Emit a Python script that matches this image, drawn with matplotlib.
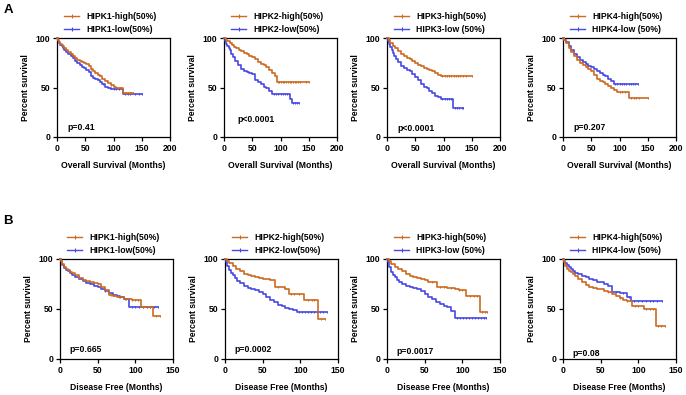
import numpy as np
import matplotlib
matplotlib.use("Agg")
import matplotlib.pyplot as plt
from matplotlib.lines import Line2D

plt.rcParams['font.family'] = ['Liberation Sans', 'DejaVu Sans']
plt.rcParams['font.weight'] = 'bold'
plt.rcParams['axes.labelweight'] = 'bold'

HIGH_C = '#CC6A20'
LOW_C = '#4848E4'

# ---------------- Data (months, percent survival) ----------------
# Row A: Overall Survival
a1_hi_t = [0,1,2,4,6,8,10,13,16,20,24,28,32,36,40,44,48,52,56,60,64,68,72,76,80,85,90,95,100,105,117,135]
a1_hi_s = [100,99,98,96,94,93,92,90,88,86,84,82,80,78,77,76,75,74,72,69,67,65,63,62,59,57,55,53,51,50,44,44]
a1_hi_c = [60,75,88,95,102,108,112,120,125,130,135]
a1_lo_t = [0,1,2,4,6,8,10,13,16,20,24,28,32,36,40,44,48,52,56,60,64,68,72,76,80,85,90,95,117,150]
a1_lo_s = [100,99,97,95,93,92,90,88,86,84,82,80,77,75,73,71,70,68,66,62,60,59,58,56,54,51,49,48,43,43]
a1_lo_c = [70,82,93,100,105,110,120,125,130,138,145,150]

a2_hi_t = [0,3,6,10,14,18,22,26,30,35,40,45,50,55,60,65,70,75,80,85,90,93,150]
a2_hi_s = [100,98,97,95,93,91,90,88,87,85,84,82,81,79,76,74,73,71,68,65,62,56,56]
a2_hi_c = [95,98,101,104,107,110,113,116,119,122,125,128,131,135,145,150]
a2_lo_t = [0,2,4,6,8,10,13,16,20,25,30,35,40,45,50,55,60,65,70,75,80,85,117,120,133]
a2_lo_s = [100,97,94,92,90,88,84,81,77,73,69,67,66,65,64,58,56,54,51,49,46,43,38,34,34]
a2_lo_c = [88,92,96,100,104,108,112,115,122,126,130,133]

a3_hi_t = [0,3,6,10,15,20,25,30,35,40,45,50,55,60,65,70,75,80,85,90,95,150]
a3_hi_s = [100,98,95,92,90,87,84,82,80,79,77,75,73,72,70,69,68,67,65,63,62,62]
a3_hi_c = [98,102,106,110,114,118,122,126,130,135,140,150]
a3_lo_t = [0,2,4,6,8,10,13,16,20,25,30,35,40,45,50,55,60,65,70,75,80,85,90,95,117,135]
a3_lo_s = [100,97,94,91,88,85,82,79,76,72,70,68,67,64,61,58,54,51,49,46,44,41,40,38,29,29]
a3_lo_c = [98,102,106,110,114,120,124,128,132,135]

a4_hi_t = [0,2,5,10,15,20,25,30,35,40,45,50,55,60,65,70,75,80,85,90,95,117,150]
a4_hi_s = [100,98,95,90,86,82,78,75,73,71,69,67,63,59,57,56,54,52,49,47,45,39,39]
a4_hi_c = [100,105,110,120,125,130,135,150]
a4_lo_t = [0,2,5,10,15,20,25,30,35,40,45,50,55,60,65,70,75,80,85,90,132]
a4_lo_s = [100,98,96,92,88,84,81,78,76,74,72,71,69,67,65,63,62,59,57,54,54]
a4_lo_c = [92,96,100,104,108,112,116,120,124,128,132]

# Row B: Disease Free
b1_hi_t = [0,1,3,5,8,10,13,16,20,25,30,35,40,45,50,55,60,65,70,75,85,95,107,123,133]
b1_hi_s = [100,98,95,92,90,89,87,86,84,81,79,78,77,76,75,72,69,64,63,62,60,59,52,43,43]
b1_hi_c = [60,68,78,88,95,100,104,110,115,120,128,133]
b1_lo_t = [0,1,3,5,8,10,13,16,20,25,30,35,40,45,50,55,60,65,70,75,80,85,92,130]
b1_lo_s = [100,98,94,91,89,88,86,84,82,80,78,76,75,73,72,70,68,66,64,63,62,60,52,52]
b1_lo_c = [60,70,80,86,95,100,105,110,115,120,125,130]

b2_hi_t = [0,2,5,10,15,20,25,30,35,40,45,50,55,60,67,75,80,85,95,105,123,133]
b2_hi_s = [100,98,96,93,90,88,85,84,83,82,81,80,80,79,72,72,70,65,65,59,40,40]
b2_hi_c = [70,78,88,92,98,110,115,118,128,133]
b2_lo_t = [0,1,3,5,8,10,13,16,20,25,30,35,40,45,50,55,60,65,70,75,80,85,90,95,135]
b2_lo_s = [100,97,93,89,86,84,81,78,76,73,71,70,69,67,65,62,59,57,54,53,51,50,49,47,47]
b2_lo_c = [98,102,106,110,114,118,122,126,130,135]

b3_hi_t = [0,2,5,10,15,20,25,30,35,40,45,50,55,67,80,90,95,105,123,133]
b3_hi_s = [100,98,95,92,90,88,85,83,82,81,80,79,77,72,71,70,69,63,47,47]
b3_hi_c = [60,70,75,85,95,100,110,115,120,126,130,133]
b3_lo_t = [0,1,3,5,8,10,13,16,20,25,30,35,40,45,50,55,60,65,70,75,80,85,90,132]
b3_lo_s = [100,97,92,87,84,82,79,77,75,73,72,71,70,68,65,62,60,57,55,53,52,48,41,41]
b3_lo_c = [93,97,101,105,109,113,117,121,125,129,132]

b4_hi_t = [0,1,3,5,8,10,13,16,20,25,30,35,40,45,50,55,60,65,70,75,80,85,92,107,123,135]
b4_hi_s = [100,97,93,90,88,87,85,83,80,77,74,72,71,70,70,68,67,65,63,61,59,58,53,50,33,33]
b4_hi_c = [60,75,85,95,100,110,115,120,126,130,135]
b4_lo_t = [0,1,3,5,8,10,13,16,20,25,30,35,40,45,50,55,60,65,75,85,90,132]
b4_lo_s = [100,98,96,94,92,90,88,86,85,83,82,80,79,77,77,75,73,67,66,62,58,58]
b4_lo_c = [70,80,88,94,100,105,110,115,120,125,132]

genes = ['HIPK1', 'HIPK2', 'HIPK3', 'HIPK4']
hi_labels = ['HIPK1-high(50%)', 'HIPK2-high(50%)', 'HIPK3-high(50%)', 'HIPK4-high(50%)']
lo_labels = ['HIPK1-low(50%)', 'HIPK2-low(50%)', 'HIPK3-low (50%)', 'HIPK4-low (50%)']
p_os = ['p=0.41', 'p<0.0001', 'p<0.0001', 'p=0.207']
p_dfs = ['p=0.665', 'p=0.0002', 'p=0.0017', 'p=0.08']
p_os_pos = [(19, 10), (23, 18), (18, 9), (18, 10)]
p_dfs_pos = [(13, 10), (13, 10), (13, 8), (13, 5)]
os_xticks = [0, 50, 100, 150, 200]
dfs_xticks = [0, 50, 100, 150]
yticks = [0, 50, 100]

row_a = [(a1_hi_t, a1_hi_s, a1_hi_c, a1_lo_t, a1_lo_s, a1_lo_c),
         (a2_hi_t, a2_hi_s, a2_hi_c, a2_lo_t, a2_lo_s, a2_lo_c),
         (a3_hi_t, a3_hi_s, a3_hi_c, a3_lo_t, a3_lo_s, a3_lo_c),
         (a4_hi_t, a4_hi_s, a4_hi_c, a4_lo_t, a4_lo_s, a4_lo_c)]
row_b = [(b1_hi_t, b1_hi_s, b1_hi_c, b1_lo_t, b1_lo_s, b1_lo_c),
         (b2_hi_t, b2_hi_s, b2_hi_c, b2_lo_t, b2_lo_s, b2_lo_c),
         (b3_hi_t, b3_hi_s, b3_hi_c, b3_lo_t, b3_lo_s, b3_lo_c),
         (b4_hi_t, b4_hi_s, b4_hi_c, b4_lo_t, b4_lo_s, b4_lo_c)]

W, H = 686, 395
fig = plt.figure(figsize=(W / 100, H / 100), dpi=100)

lefts_a = [57, 224, 387, 563]
lefts_b = [60, 225, 387, 563]
ax_w = 113
FS = 6.2


def draw_curve(ax, t, s, c, color):
    t = np.asarray(t, float)
    s = np.asarray(s, float)
    ax.step(t, s, where='post', color=color, lw=1.2, clip_on=False, zorder=3)
    c = np.asarray(c, float)
    idx = np.searchsorted(t, c, side='right') - 1
    ax.plot(c, s[idx], linestyle='none', marker='|', ms=2.0, mew=0.7,
            color=color, clip_on=False, zorder=3)


def make_panel(left_px, top_px, height_px, data, xmax, xticks, xlabel, i, ptxt, ppos):
    ax = fig.add_axes([left_px / W, (H - top_px - height_px) / H, ax_w / W, height_px / H])
    hi_t, hi_s, hi_c, lo_t, lo_s, lo_c = data
    draw_curve(ax, lo_t, lo_s, lo_c, LOW_C)
    draw_curve(ax, hi_t, hi_s, hi_c, HIGH_C)
    ax.set_xlim(0, xmax)
    ax.set_ylim(0, 100)
    ax.set_xticks(xticks)
    ax.set_yticks(yticks)
    ax.tick_params(direction='out', length=3, width=0.9, labelsize=FS, pad=2)
    for lab in ax.get_xticklabels() + ax.get_yticklabels():
        lab.set_fontweight('bold')
    for sp in ax.spines.values():
        sp.set_linewidth(0.9)
    ax.set_xlabel(xlabel, fontsize=FS, fontweight='bold', labelpad=6)
    ax.set_ylabel('Percent survival', fontsize=FS, fontweight='bold', labelpad=4)
    ax.text(ppos[0], ppos[1], ptxt, fontsize=FS, fontweight='bold', va='center', ha='left')
    handles = [Line2D([], [], color=HIGH_C, lw=1.0, marker='|', ms=2.4, mew=0.8),
               Line2D([], [], color=LOW_C, lw=1.0, marker='|', ms=2.4, mew=0.8)]
    ax.legend(handles, [hi_labels[i], lo_labels[i]], loc='lower left',
              bbox_to_anchor=(0.06, 1.04), frameon=False, fontsize=FS,
              handlelength=1.8, handletextpad=0.8, labelspacing=0.45,
              borderpad=0, borderaxespad=0, numpoints=1,
              prop={'weight': 'bold', 'size': FS})
    return ax


for i in range(4):
    make_panel(lefts_a[i], 38, 99, row_a[i], 200, os_xticks,
               'Overall Survival (Months)', i, p_os[i], p_os_pos[i])
    make_panel(lefts_b[i], 259, 100, row_b[i], 150, dfs_xticks,
               'Disease Free (Months)', i, p_dfs[i], p_dfs_pos[i])

fig.text(4 / W, 1 - 10 / H, 'A', fontsize=9.5, fontweight='bold', va='center', ha='left')
fig.text(3 / W, 1 - 221 / H, 'B', fontsize=9.5, fontweight='bold', va='center', ha='left')

fig.savefig('out.png', dpi=100)
